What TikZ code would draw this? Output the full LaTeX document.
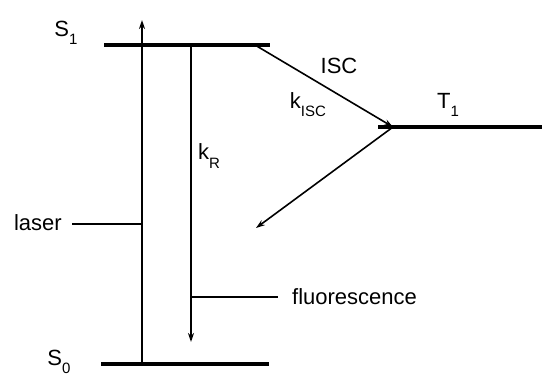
\documentclass[tikz,border=0pt]{standalone}
\usepackage{fontspec}
\setmainfont{Liberation Sans}
\usetikzlibrary{arrows.meta}
\newcommand{\sbs}[1]{\raisebox{-0.7ex}{\fontsize{15}{17}\selectfont #1}}
\begin{document}
\begin{tikzpicture}[x=1pt,y=-1pt,
  level/.style={line width=3.2pt},
  trans/.style={line width=1.6pt,-{Stealth[length=9pt,width=6pt]}},
  lead/.style={line width=1.5pt},
  lbl/.style={inner sep=0pt,font=\fontsize{22}{25}\selectfont}]
\useasboundingbox (0,0) rectangle (542,376);
% levels
\coordinate (S1a) at (104,45); \coordinate (S1b) at (270,45);
\coordinate (S0a) at (101,364); \coordinate (S0b) at (269,364);
\coordinate (T1a) at (378,127); \coordinate (T1b) at (542,127);
\draw[level] (S1a) -- (S1b);
\draw[level] (S0a) -- (S0b);
\draw[level] (T1a) -- (T1b);
% transitions
\coordinate (Lbot) at (142,364); \coordinate (Ltop) at (142,20);
\draw[trans] (Lbot) -- (Ltop);
\coordinate (Ftop) at (191,45); \coordinate (Fbot) at (191,342);
\draw[trans] (Ftop) -- (Fbot);
\coordinate (Istart) at (255,45); \coordinate (Iend) at (393,127);
\draw[trans] (Istart) -- (Iend);
\coordinate (Pend) at (256,228);
\draw[trans] (Iend) -- (Pend);
% labels
\node[lbl] (S1) at (66,33) {S\sbs{1}};
\node[lbl] (S0) at (59,362) {S\sbs{0}};
\node[lbl] (T1) at (448,105) {T\sbs{1}};
\node[lbl] (ISC) at (339,66) {ISC};
\node[lbl] (kisc) at (308,105) {k\sbs{ISC}};
\node[lbl] (kR) at (209,156) {k\sbs{R}};
\node[lbl,anchor=east] (laser) at (62,223) {laser};
\coordinate (Lmid) at (142,224);
\draw[lead] (laser.east) ++(10,1) coordinate (lasL) -- (Lmid);
\node[lbl,anchor=west] (fluor) at (292,297) {fluorescence};
\coordinate (Fmid) at (191,297);
\draw[lead] (Fmid) -- ([xshift=-14pt]fluor.west);
\end{tikzpicture}
\end{document}
